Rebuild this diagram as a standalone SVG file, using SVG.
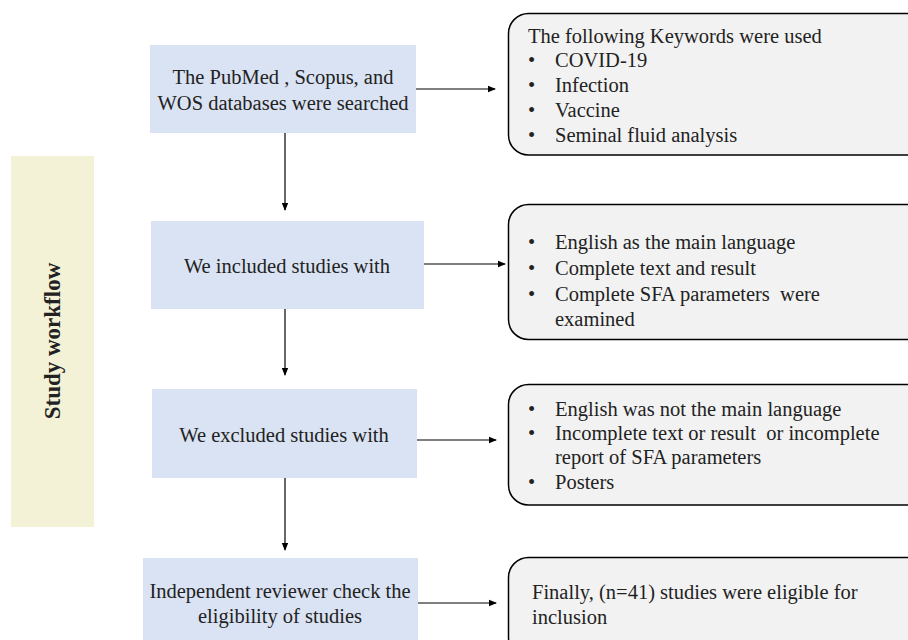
<svg xmlns="http://www.w3.org/2000/svg" width="908" height="640" viewBox="0 0 908 640">
<style>
.step{fill:#dae3f3;}
.list{fill:#f2f2f2;stroke:#000;stroke-width:1.5;}
.t{font-family:"Liberation Serif","Times New Roman",serif;font-size:20.5px;fill:#222;white-space:pre;}
.c{text-anchor:middle;}
.conn line{stroke:#000;stroke-width:1.2;}
</style>
<defs>
<marker id="ah" markerWidth="8" markerHeight="8" refX="7" refY="4" orient="auto" markerUnits="userSpaceOnUse">
<path d="M0,0.8 L8,4 L0,7.2 Z" fill="#000"/>
</marker>
</defs>
<rect width="908" height="640" fill="#fff"/>
<g id="side">
<rect x="11" y="156" width="83" height="371" fill="#f3f2d6"/>
<text class="t c" transform="translate(60,341) rotate(-90)" style="font-weight:bold;font-size:23px" fill="#000">Study workflow</text>
</g>
<g id="n1">
<rect class="step" x="150" y="45" width="266" height="88"/>
<text class="t c" x="283" y="84">The PubMed , Scopus, and</text>
<text class="t c" x="283" y="110">WOS databases were searched</text>
</g>
<g id="k1">
<rect class="list" x="508.5" y="13.5" width="420" height="141.5" rx="20"/>
<text class="t" x="528" y="43">The following Keywords were used</text>
<text class="t" x="528" y="67">•</text><text class="t" x="555" y="67">COVID-19</text>
<text class="t" x="528" y="92">•</text><text class="t" x="555" y="92">Infection</text>
<text class="t" x="528" y="117">•</text><text class="t" x="555" y="117">Vaccine</text>
<text class="t" x="528" y="142">•</text><text class="t" x="555" y="142">Seminal fluid analysis</text>
</g>
<g id="n2">
<rect class="step" x="151" y="221" width="273" height="88"/>
<text class="t c" x="287" y="273">We included studies with</text>
</g>
<g id="k2">
<rect class="list" x="508.5" y="204.5" width="420" height="135" rx="20"/>
<text class="t" x="528" y="249">•</text><text class="t" x="555" y="249">English as the main language</text>
<text class="t" x="528" y="275">•</text><text class="t" x="555" y="275">Complete text and result</text>
<text class="t" x="528" y="301">•</text><text class="t" x="555" y="301">Complete SFA parameters  were</text>
<text class="t" x="555" y="326">examined</text>
</g>
<g id="n3">
<rect class="step" x="152" y="389" width="265" height="89"/>
<text class="t c" x="284" y="442">We excluded studies with</text>
</g>
<g id="k3">
<rect class="list" x="508.5" y="384.5" width="420" height="120.5" rx="20"/>
<text class="t" x="528" y="416">•</text><text class="t" x="555" y="416">English was not the main language</text>
<text class="t" x="528" y="440">•</text><text class="t" x="555" y="440">Incomplete text or result  or incomplete</text>
<text class="t" x="555" y="464">report of SFA parameters</text>
<text class="t" x="528" y="489">•</text><text class="t" x="555" y="489">Posters</text>
</g>
<g id="n4">
<rect class="step" x="143" y="558" width="275" height="90"/>
<text class="t c" x="280" y="598">Independent reviewer check the</text>
<text class="t c" x="280" y="623">eligibility of studies</text>
</g>
<g id="k4">
<rect class="list" x="508.5" y="557.5" width="420" height="100" rx="20"/>
<text class="t" x="532" y="599">Finally, (n=41) studies were eligible for</text>
<text class="t" x="532" y="624">inclusion</text>
</g>
<g class="conn" id="connectors">
<line x1="416" y1="89" x2="495" y2="89" marker-end="url(#ah)"/>
<line x1="285" y1="133" x2="285" y2="210" marker-end="url(#ah)"/>
<line x1="424" y1="264" x2="505" y2="264" marker-end="url(#ah)"/>
<line x1="285" y1="309" x2="285" y2="375" marker-end="url(#ah)"/>
<line x1="417" y1="440" x2="496" y2="440" marker-end="url(#ah)"/>
<line x1="285" y1="478" x2="285" y2="550" marker-end="url(#ah)"/>
<line x1="418" y1="603" x2="496" y2="603" marker-end="url(#ah)"/>
</g>
</svg>
